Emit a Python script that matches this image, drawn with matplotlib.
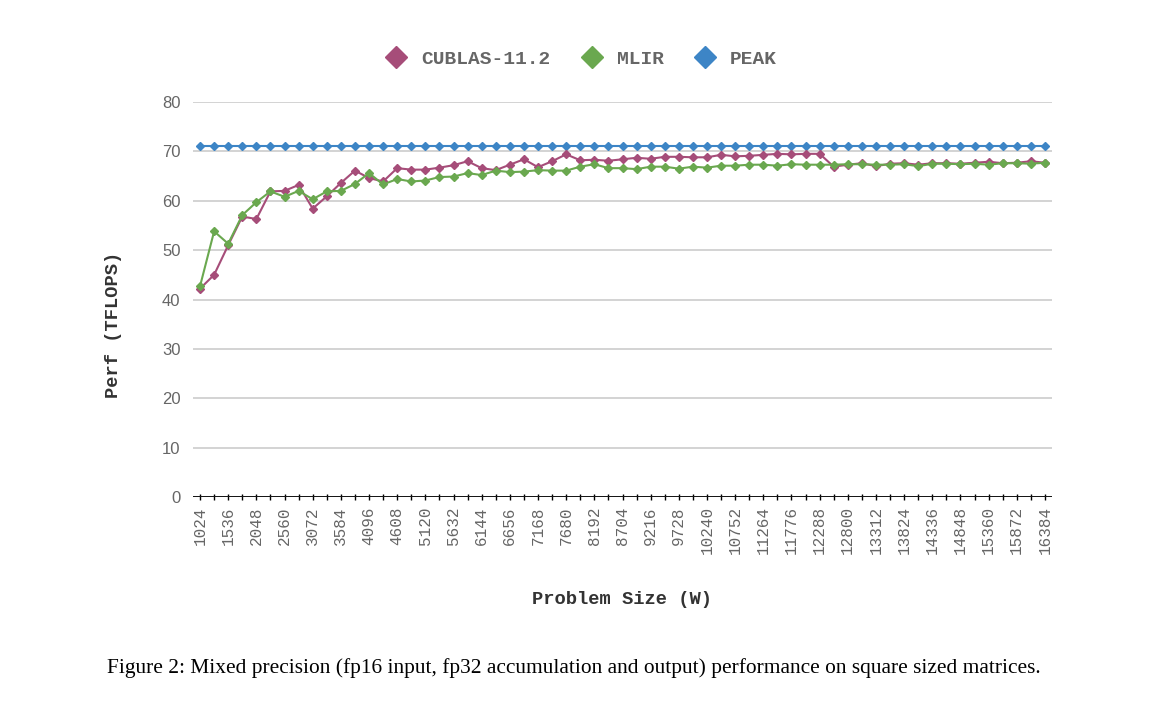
import matplotlib
matplotlib.use("Agg")
import matplotlib.pyplot as plt
from matplotlib.lines import Line2D
import numpy as np

# problem sizes (categories on x axis)
sizes = list(range(1024, 16385, 256))

cublas = [42.2, 45.0, 51.0, 56.8, 56.3, 61.9, 62.0, 63.2, 58.4, 60.9,
          63.6, 66.1, 64.6, 63.9, 66.6, 66.3, 66.3, 66.7, 67.2, 68.0,
          66.6, 66.2, 67.3, 68.4, 66.8, 68.0, 69.4, 68.2, 68.3, 68.1,
          68.4, 68.7, 68.5, 68.9, 68.9, 68.8, 68.8, 69.3, 69.0, 69.1,
          69.3, 69.5, 69.4, 69.5, 69.5, 66.9, 67.3, 67.6, 67.0, 67.5,
          67.6, 67.3, 67.6, 67.6, 67.5, 67.7, 67.9, 67.6, 67.7, 68.0,
          67.7]
mlir = [42.7, 53.8, 51.3, 57.1, 59.7, 61.9, 60.8, 62.0, 60.3, 61.9,
        62.0, 63.4, 65.6, 63.3, 64.4, 63.9, 64.1, 64.8, 64.9, 65.6,
        65.2, 66.1, 65.8, 65.9, 66.2, 66.1, 66.1, 66.9, 67.4, 66.6,
        66.6, 66.4, 66.9, 66.9, 66.5, 66.9, 66.7, 67.1, 67.1, 67.3,
        67.3, 67.1, 67.4, 67.3, 67.3, 67.3, 67.4, 67.4, 67.3, 67.3,
        67.4, 67.0, 67.5, 67.5, 67.4, 67.5, 67.3, 67.6, 67.6, 67.5,
        67.7]
peak = [71.0] * len(sizes)

series_names = ["CUBLAS-11.2", "MLIR", "PEAK"]
colors = ["#a64d79", "#6aa84f", "#3d85c6"]

mono = ["Liberation Mono", "DejaVu Sans Mono"]

fig = plt.figure(figsize=(11.75, 7.07), dpi=100)
ax = fig.add_axes([193/1175, 1-497/707, (1052-193)/1175, (497-102)/707])

x = np.arange(len(sizes))
ax.plot(x, peak, color=colors[2], lw=1.5, marker="D", ms=4, zorder=3)
ax.plot(x, cublas, color=colors[0], lw=1.5, marker="D", ms=4, zorder=4)
ax.plot(x, mlir, color=colors[1], lw=1.5, marker="D", ms=4, zorder=5)

ax.set_xlim(-0.5, len(sizes) - 0.5)
ax.set_ylim(0, 80)
ax.set_yticks(range(0, 81, 10))
ax.grid(axis="y", color="#cccccc", lw=1.2)
ax.set_axisbelow(True)
for s in ax.spines.values():
    s.set_visible(False)
ax.axhline(0, color="black", lw=2, zorder=2)

ax.set_xticks(x)
ax.set_xticklabels([str(s) if i % 2 == 0 else "" for i, s in enumerate(sizes)],
                   rotation=90, family=mono, fontsize=11.5, color="#666666")
ax.tick_params(axis="x", direction="inout", length=5, width=1, color="black", pad=4)
ax.tick_params(axis="y", length=0, pad=9, labelsize=12, labelcolor="#666666")
for t in ax.get_yticklabels():
    t.set_family(["Liberation Sans", "DejaVu Sans"])

fig.text(113/1175, 1-325/707, "Perf (TFLOPS)", rotation=90, ha="center", va="center",
         family=mono, fontweight="bold", fontsize=13.5, color="#333333")
fig.text(622/1175, 1-600/707, "Problem Size (W)", ha="center", va="center",
         family=mono, fontweight="bold", fontsize=13.5, color="#333333")

handles = [Line2D([], [], ls="none", marker="D", ms=11, color=c) for c in colors]
fig.legend(handles, series_names, loc="center", bbox_to_anchor=(577/1175, 1-59/707),
           ncol=3, frameon=False, handletextpad=0.3, columnspacing=1.1,
           prop={"family": mono, "weight": "bold", "size": 14}, labelcolor="#666666")

fig.text(574/1175, 1-668/707,
         "Figure 2: Mixed precision (fp16 input, fp32 accumulation and output) performance on square sized matrices.",
         ha="center", va="center", family=["Liberation Serif", "DejaVu Serif"], fontsize=15.4, color="black")

fig.savefig("out.png", dpi=100)
